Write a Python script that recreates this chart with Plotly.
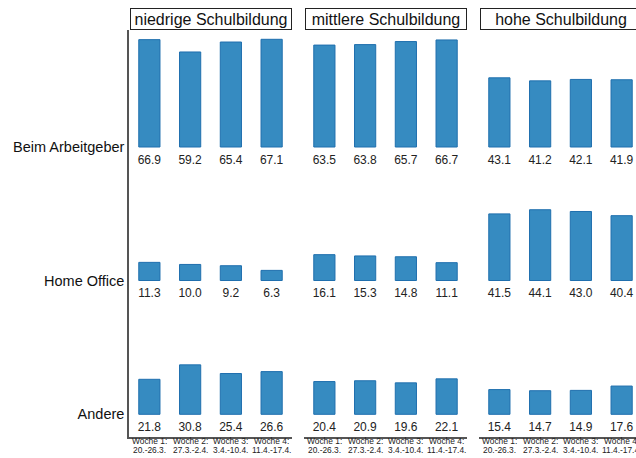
# Arbeitsort nach Schulbildung, Wochen 1-4

import plotly.graph_objects as go
from plotly.subplots import make_subplots

groups = ["niedrige Schulbildung", "mittlere Schulbildung", "hohe Schulbildung"]
places = ["Beim Arbeitgeber", "Home Office", "Andere"]
weeks = ["Woche 1:", "Woche 2:", "Woche 3:", "Woche 4:"]
week_dates = ["20.-26.3.", "27.3.-2.4.", "3.4.-10.4.", "11.4.-17.4."]

niedrig_ag = [66.9, 59.2, 65.4, 67.1]
niedrig_ho = [11.3, 10.0, 9.2, 6.3]
niedrig_andere = [21.8, 30.8, 25.4, 26.6]

mittel_ag = [63.5, 63.8, 65.7, 66.7]
mittel_ho = [16.1, 15.3, 14.8, 11.1]
mittel_andere = [20.4, 20.9, 19.6, 22.1]

hoch_ag = [43.1, 41.2, 42.1, 41.9]
hoch_ho = [41.5, 44.1, 43.0, 40.4]
hoch_andere = [15.4, 14.7, 14.9, 17.6]

values = [
    [niedrig_ag, mittel_ag, hoch_ag],
    [niedrig_ho, mittel_ho, hoch_ho],
    [niedrig_andere, mittel_andere, hoch_andere],
]

W, H = 636, 458
FONT = "Arial, Liberation Sans, sans-serif"
AXIS_COL = "#555555"


def fx(px):
    return px / W


def fy(py):
    return 1 - py / H


# pixel layout (window coordinates)
col_px = [(129, 292), (304, 467), (479, 636)]
row_px = [(30, 162), (162, 300), (300, 437)]
baseline_px = [147, 280.5, 414.3]
px_per_unit = 1.605
px_per_cat = 40.75

fig = make_subplots(rows=3, cols=3, horizontal_spacing=0.02, vertical_spacing=0)

for r in range(3):
    y0, y1 = row_px[r]
    b = baseline_px[r]
    yrange = [-(y1 - b) / px_per_unit, (b - y0) / px_per_unit]
    for c in range(3):
        vals = values[r][c]
        fig.add_trace(go.Bar(
            x=weeks, y=vals, width=0.52,
            marker=dict(color="#368bc1", line=dict(color="#1f6fae", width=1)),
            showlegend=False, hoverinfo="skip"),
            row=r + 1, col=c + 1)
        fig.add_trace(go.Scatter(
            x=weeks, y=[-8.7] * len(vals), mode="text",
            text=["%.1f" % v for v in vals], textposition="middle center",
            textfont=dict(size=12, color="#222222", family=FONT),
            cliponaxis=False, showlegend=False, hoverinfo="skip"),
            row=r + 1, col=c + 1)

        x0, x1 = col_px[c]
        fig.update_xaxes(
            domain=[fx(x0), min(fx(x1), 1)],
            range=[-0.5, -0.5 + (x1 - x0) / px_per_cat],
            showgrid=False, zeroline=False, fixedrange=True,
            showline=(r == 2), linecolor=AXIS_COL, linewidth=1.5,
            showticklabels=False, ticks="",
            row=r + 1, col=c + 1)
        fig.update_yaxes(
            domain=[fy(y1), fy(y0)],
            range=yrange,
            showgrid=False, zeroline=False, fixedrange=True,
            showline=(c == 0), linecolor=AXIS_COL, linewidth=1.5,
            showticklabels=(c == 0), ticks="",
            tickvals=[0], ticktext=[places[r]],
            tickfont=dict(size=14.5, color="#111111", family=FONT),
            row=r + 1, col=c + 1)

# week labels under the bottom row, two tight lines each
for c in range(3):
    xref = "x%d" % (7 + c)
    for wk, dt in zip(weeks, week_dates):
        for txt, py in ((wk, 441.2), (dt, 450.3)):
            fig.add_annotation(
                x=wk, y=fy(py), xref=xref, yref="paper", text=txt,
                showarrow=False, xanchor="center", yanchor="middle",
                font=dict(size=8.4, color="#222222", family=FONT))

# boxed column headers
for c, g in enumerate(groups):
    x0 = col_px[c][0]
    fig.add_annotation(
        x=fx(x0 + 81.5), y=fy(19), xref="paper", yref="paper",
        text=g, showarrow=False, width=158, height=18,
        borderwidth=1, bordercolor="#222222", borderpad=1,
        font=dict(size=16, color="#111111", family=FONT),
        xanchor="center", yanchor="middle")

fig.update_layout(
    width=W, height=H,
    margin=dict(l=0, r=0, t=0, b=0),
    paper_bgcolor="white", plot_bgcolor="rgba(0,0,0,0)",
    bargap=0.5,
    font=dict(family=FONT),
)

# drop the default body margin so the figure fills the window without scrollbars
fig.write_html("out.html", config={"displayModeBar": False},
               post_script="document.body.style.margin='0';")
